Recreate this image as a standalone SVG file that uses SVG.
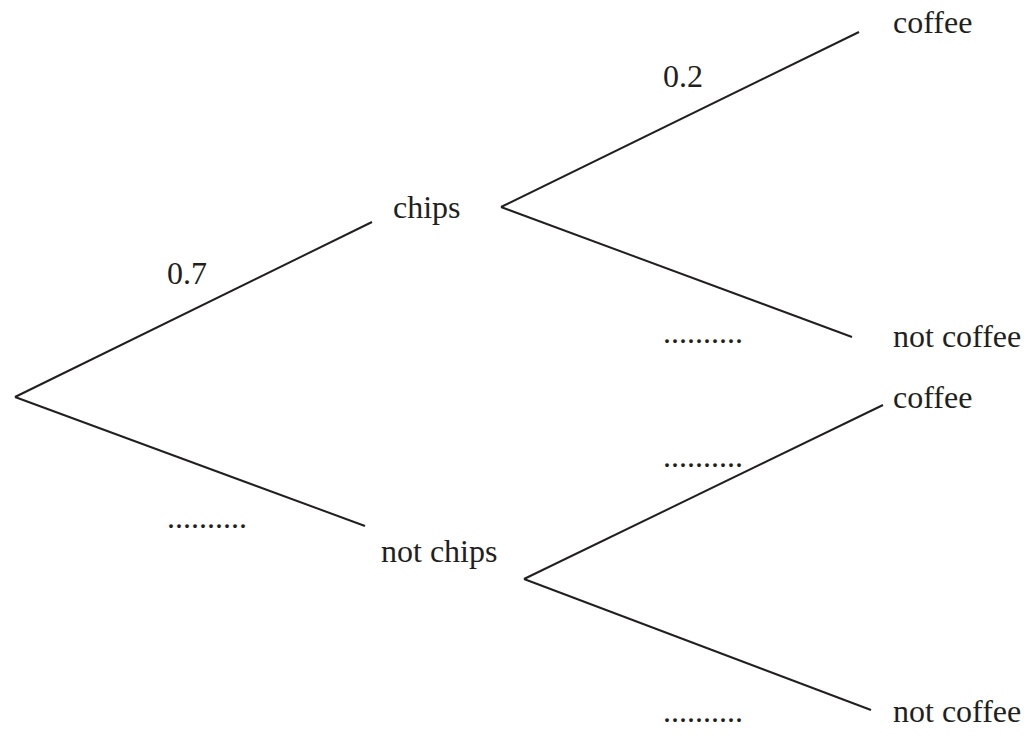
<svg xmlns="http://www.w3.org/2000/svg" width="1030" height="738" viewBox="0 0 1030 738">
<style>
text{font-family:"Liberation Serif","Times New Roman",serif;font-size:32px;fill:#231f20}
.e{stroke:#231f20;stroke-width:2;fill:none}
</style>
<rect width="1030" height="738" fill="#fff"/>
<g id="connectors">
<line class="e" x1="15" y1="397" x2="372" y2="222"/>
<line class="e" x1="15" y1="397" x2="365" y2="526"/>
<line class="e" x1="501" y1="207" x2="859" y2="32"/>
<line class="e" x1="501" y1="207" x2="852" y2="337"/>
<line class="e" x1="524" y1="579" x2="883" y2="405"/>
<line class="e" x1="524" y1="579" x2="871" y2="710"/>
</g>
<g id="labels">
<text x="167" y="284">0.7</text>
<text x="167" y="528">..........</text>
<text x="663" y="87">0.2</text>
<text x="663" y="343">..........</text>
<text x="663" y="467">..........</text>
<text x="663" y="722">..........</text>
</g>
<g id="chips"><text x="393" y="218">chips</text></g>
<g id="notchips"><text x="381" y="562">not chips</text></g>
<g id="coffee1"><text x="893" y="33">coffee</text></g>
<g id="notcoffee1"><text x="893" y="347">not coffee</text></g>
<g id="coffee2"><text x="893" y="408">coffee</text></g>
<g id="notcoffee2"><text x="893" y="722">not coffee</text></g>
</svg>
